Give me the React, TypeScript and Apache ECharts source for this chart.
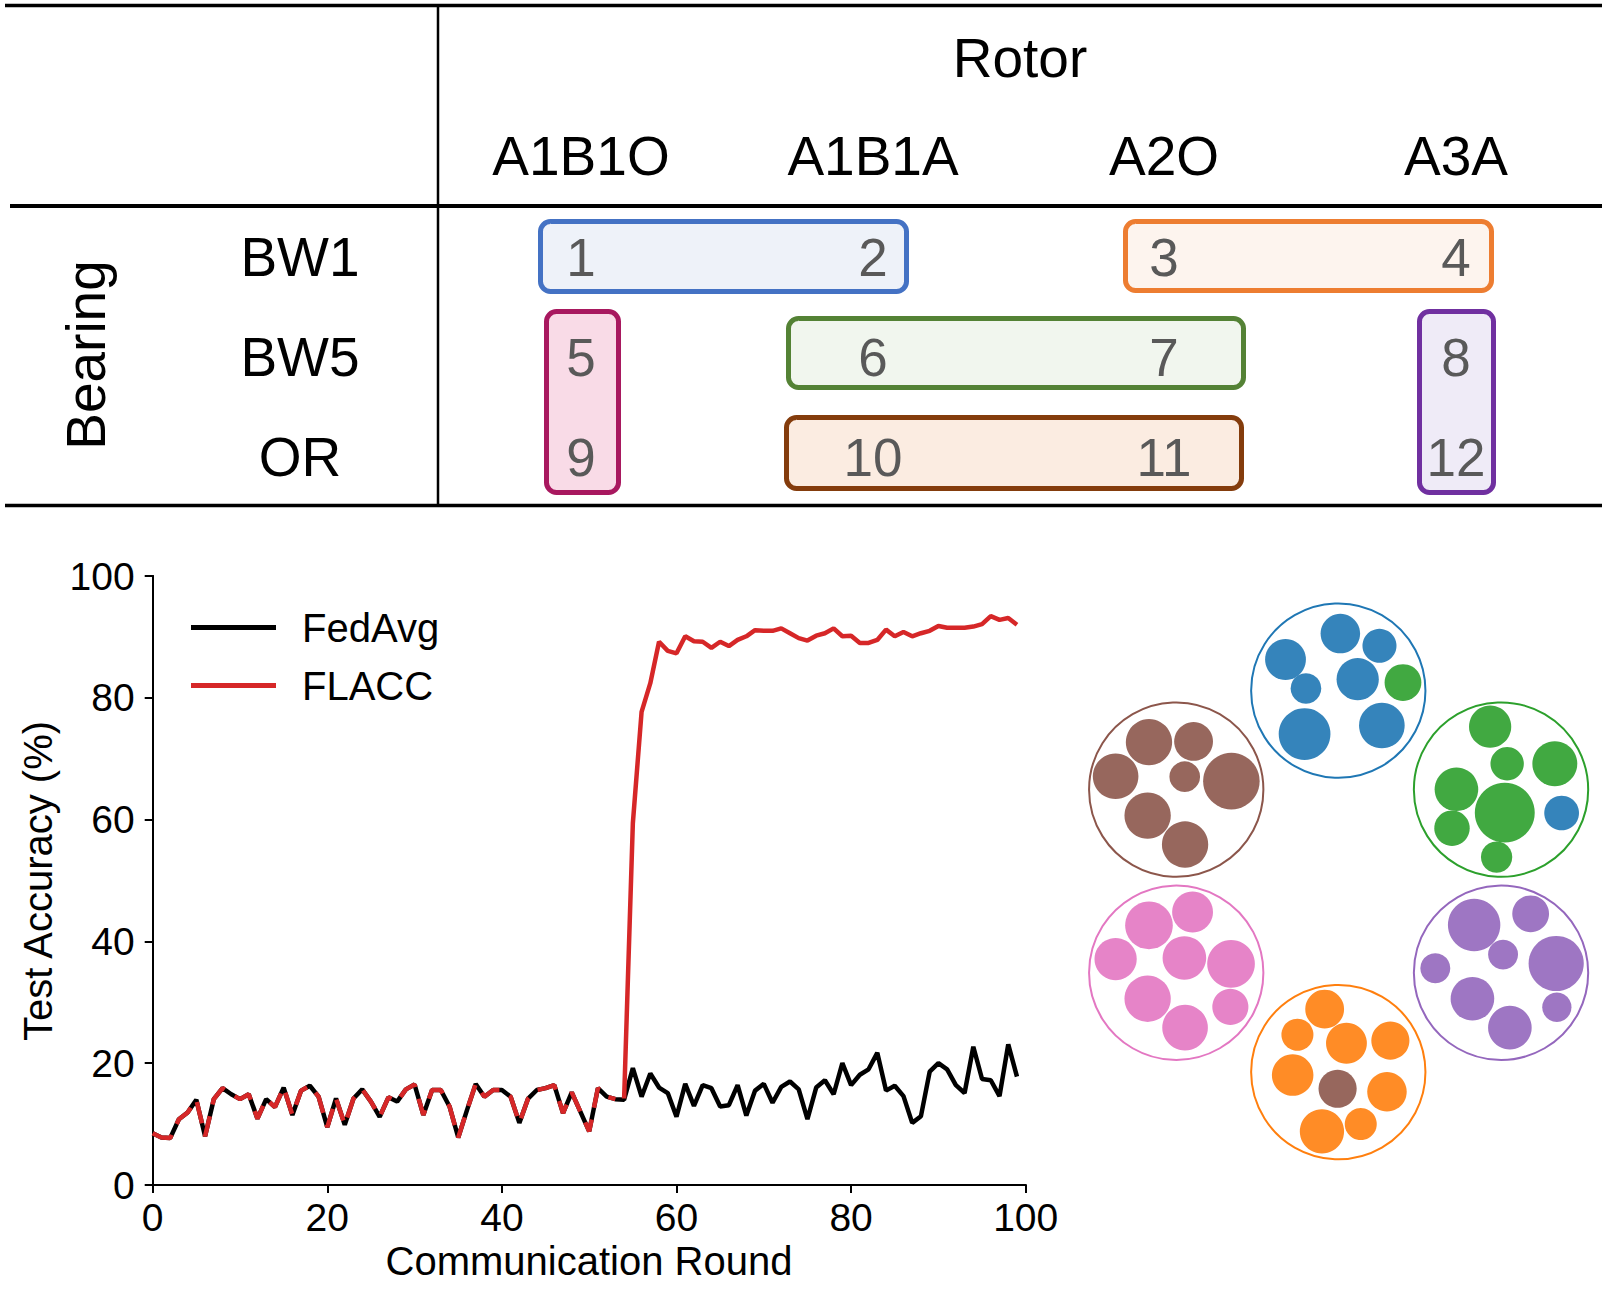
import React, { useEffect, useRef } from "react";
import * as echarts from "echarts";

const FONT = "'Liberation Sans', Arial, Helvetica, sans-serif";

// ---- table data ----
const rotorTitle = "Rotor";
const bearingTitle = "Bearing";
const rotorCols = ["A1B1O", "A1B1A", "A2O", "A3A"];
const bearingRows = ["BW1", "BW5", "OR"];
const clientIds = [
  [1, 2, 3, 4],
  [5, 6, 7, 8],
  [9, 10, 11, 12],
];

// ---- line chart data ----
const yTicks = [0, 20, 40, 60, 80, 100];
const xTicks = [0, 20, 40, 60, 80, 100];
const fedAvg = [
  8.5, 7.8, 7.7, 10.8, 11.9, 14.0, 8.0, 14.1, 15.9, 14.9,
  14.1, 14.9, 10.9, 14.1, 12.8, 16.0, 11.5, 15.5, 16.3, 14.5,
  9.5, 14.2, 9.9, 14.2, 15.7, 13.7, 11.2, 14.4, 13.7, 15.7,
  16.5, 11.5, 15.6, 15.6, 12.9, 7.8, 12.3, 16.6, 14.5, 15.6,
  15.6, 14.5, 10.2, 14.2, 15.6, 15.9, 16.4, 11.8, 15.2, 12.0,
  8.8, 15.9, 14.5, 14.1, 14.0, 19.2, 14.5, 18.3, 16.0, 15.1,
  11.2, 16.6, 13.0, 16.4, 15.9, 12.9, 13.1, 16.4, 11.4, 15.5,
  16.6, 13.5, 16.1, 17.0, 15.7, 10.8, 16.0, 17.2, 14.9, 20.0,
  16.4, 18.1, 19.0, 21.7, 15.5, 16.3, 14.6, 10.2, 11.3, 18.6,
  20.0, 19.0, 16.4, 15.1, 22.7, 17.4, 17.2, 14.6, 23.1, 17.8,
];
const switchRound = 54;
const flaccAfterSwitch = [
  14.2, 59.4, 77.7, 82.4, 89.2, 87.7, 87.3, 90.1, 89.3, 89.2,
  88.2, 89.2, 88.5, 89.5, 90.1, 91.1, 91.0, 91.0, 91.4, 90.6,
  89.8, 89.4, 90.2, 90.6, 91.4, 90.1, 90.2, 89.0, 89.0, 89.5,
  91.2, 90.1, 90.8, 90.1, 90.6, 91.0, 91.8, 91.5, 91.5, 91.5,
  91.7, 92.1, 93.4, 92.8, 93.1, 92.0,
];
// FLACC coincides with FedAvg before the switch round
const flacc = [...fedAvg.slice(0, switchRound), ...flaccAfterSwitch];

// ---- cluster illustration (decorative) ----
const clusterColors = ["#1f77b4", "#2ca02c", "#9467bd", "#ff7f0e", "#e377c2", "#8c564b"];
const rings = [
  [781, 271, 0], [1259, 538, 1], [1259, 1032, 2],
  [781, 1300, 3], [305, 1032, 4], [305, 538, 5],
];
const ringRadius = 256;
const blobs = [
  [787, 117, 58, 0], [902, 150, 50, 0], [626, 187, 60, 0], [838, 240, 62, 0], [971, 249, 54, 1], [686, 265, 45, 0], [682, 388, 76, 0], [909, 365, 67, 0],
  [1227, 368, 62, 1], [1277, 468, 49, 1], [1417, 468, 66, 1], [1128, 537, 64, 1], [1270, 600, 88, 1], [1437, 601, 51, 0], [1115, 642, 52, 1], [1246, 720, 46, 1],
  [225, 410, 68, 5], [356, 408, 57, 5], [127, 502, 67, 5], [330, 503, 45, 5], [467, 515, 83, 5], [221, 608, 68, 5], [331, 686, 68, 5],
  [225, 904, 70, 4], [353, 868, 60, 4], [127, 995, 62, 4], [329, 992, 64, 4], [466, 1008, 70, 4], [221, 1102, 68, 4], [331, 1180, 67, 4], [464, 1124, 53, 4],
  [1180, 903, 77, 2], [1346, 873, 54, 2], [1265, 983, 44, 2], [1421, 1007, 81, 2], [1066, 1020, 44, 2], [1175, 1102, 64, 2], [1285, 1180, 64, 2], [1423, 1125, 43, 2],
  [741, 1130, 57, 3], [661, 1199, 47, 3], [805, 1222, 60, 3], [934, 1215, 56, 3], [647, 1308, 61, 3], [779, 1345, 56, 5], [924, 1353, 58, 3], [733, 1460, 65, 3], [847, 1440, 47, 3],
];

const groupBoxes = [
  { x: 538, y: 219, w: 371, h: 75, stroke: "#4472c4", fill: "#eef2f9" },
  { x: 1123, y: 219, w: 371, h: 74, stroke: "#ed7d31", fill: "#fdf4ee" },
  { x: 544, y: 309, w: 77, h: 186, stroke: "#a8185f", fill: "#f9dbe7" },
  { x: 786, y: 316, w: 460, h: 74, stroke: "#548235", fill: "#f1f6ee" },
  { x: 1417, y: 309, w: 79, h: 186, stroke: "#7030a0", fill: "#efebf7" },
  { x: 784, y: 415, w: 460, h: 76, stroke: "#843c0c", fill: "#fbece1" },
];

const colX = [581, 873, 1164, 1456];
const rowY = [257, 357, 457];

function px(zx: number) {
  return (1220 + (zx - 525) * 0.332) * 1.02551;
}
function py(zy: number) {
  return (590 + (zy - 40) * 0.36147) * 1.02551;
}
const rScale = 0.332 * 1.02551;

function buildGraphic() {
  const g: any[] = [];
  const line = (x1: number, y1: number, x2: number, y2: number, w: number) => ({
    type: "line",
    shape: { x1, y1, x2, y2 },
    style: { stroke: "#000", lineWidth: w },
    silent: true,
  });
  g.push(line(5, 5.5, 1602, 5.5, 3.5));
  g.push(line(10, 206, 1602, 206, 4));
  g.push(line(5, 505.5, 1602, 505.5, 3.5));
  g.push(line(438, 5, 438, 505, 2.5));

  groupBoxes.forEach((b) => {
    g.push({
      type: "rect",
      shape: { x: b.x + 2.5, y: b.y + 2.5, width: b.w - 5, height: b.h - 5, r: 10 },
      style: { fill: b.fill, stroke: b.stroke, lineWidth: 5 },
      silent: true,
    });
  });

  const text = (t: string, x: number, y: number, size: number, fill: string, extra: any = {}) => ({
    type: "text",
    x,
    y,
    ...extra,
    style: {
      text: t,
      fontSize: size,
      fontFamily: FONT,
      fill,
      align: "center",
      verticalAlign: "middle",
    },
    silent: true,
  });

  g.push(text(rotorTitle, 1020, 58, 55, "#000"));
  rotorCols.forEach((c, i) => g.push(text(c, colX[i], 156, 55, "#000")));
  bearingRows.forEach((r, i) => g.push(text(r, 300, rowY[i], 55, "#000")));
  g.push(text(bearingTitle, 86, 355, 55, "#000", { rotation: Math.PI / 2 }));
  clientIds.forEach((row, ri) =>
    row.forEach((id, ci) => g.push(text(String(id), colX[ci], rowY[ri], 53, "#595959")))
  );

  g.push(text("Communication Round", 589, 1261, 40, "#000"));
  g.push(text("Test Accuracy (%)", 38, 881, 40, "#000", { rotation: Math.PI / 2 }));

  rings.forEach(([zx, zy, ci]) => {
    g.push({
      type: "circle",
      shape: { cx: px(zx), cy: py(zy), r: ringRadius * rScale },
      style: { fill: "none", stroke: clusterColors[ci], lineWidth: 2 },
      silent: true,
    });
  });
  blobs.forEach(([zx, zy, rx, ci]) => {
    g.push({
      type: "circle",
      shape: { cx: px(zx), cy: py(zy), r: rx * rScale },
      style: { fill: clusterColors[ci], opacity: 0.9 },
      silent: true,
    });
  });
  return g;
}

export default function App() {
  const ref = useRef<HTMLDivElement>(null);
  useEffect(() => {
    if (!ref.current) return;
    const chart = echarts.init(ref.current, null, { renderer: "svg" });
    const rounds = fedAvg.map((_, i) => i);
    const fedData = rounds.map((r) => [r, fedAvg[r]]);
    const flaccEarly = rounds.filter((r) => r < switchRound).map((r) => [r, flacc[r]]);
    const flaccLate = rounds.filter((r) => r >= switchRound).map((r) => [r, flacc[r]]);

    const axisCommon = {
      axisLine: { show: true, lineStyle: { color: "#000", width: 2 } },
      splitLine: { show: false },
    };

    chart.setOption({
      animation: false,
      backgroundColor: "#fff",
      textStyle: { fontFamily: FONT },
      grid: {
        left: 152.7,
        top: 576,
        right: 1608 - 1025.7,
        bottom: 1301 - 1185,
        containLabel: false,
        outerBoundsMode: "none",
      },
      legend: {
        data: ["FedAvg", "FLACC"],
        orient: "vertical",
        left: 186,
        top: 602,
        icon: "rect",
        itemWidth: 85,
        itemHeight: 5,
        itemGap: 17,
        textStyle: {
          fontSize: 40,
          color: "#000",
          fontFamily: FONT,
          lineHeight: 41,
          padding: [0, 0, 0, 21],
        },
      },
      xAxis: [
        {
          type: "value",
          min: xTicks[0],
          max: xTicks[xTicks.length - 1],
          interval: 20,
          ...axisCommon,
          axisTick: { show: true, length: 8, lineStyle: { color: "#000", width: 2 } },
          axisLabel: { fontSize: 39, color: "#000", margin: 13, fontFamily: FONT },
        },
        {
          type: "value",
          position: "top",
          min: 0,
          max: 100,
          ...axisCommon,
          axisTick: { show: false },
          axisLabel: { show: false },
        },
      ],
      yAxis: [
        {
          type: "value",
          min: yTicks[0],
          max: yTicks[yTicks.length - 1],
          interval: 20,
          ...axisCommon,
          axisTick: { show: true, length: 8, lineStyle: { color: "#000", width: 2 } },
          axisLabel: { fontSize: 39, color: "#000", margin: 18, fontFamily: FONT },
        },
        {
          type: "value",
          position: "right",
          min: 0,
          max: 100,
          ...axisCommon,
          axisTick: { show: false },
          axisLabel: { show: false },
        },
      ],
      series: [
        {
          name: "FedAvg",
          type: "line",
          data: fedData,
          symbol: "none",
          lineStyle: { color: "#000", width: 4.5 },
          itemStyle: { color: "#000" },
          z: 2,
        },
        {
          name: "FLACC",
          type: "line",
          data: flaccLate,
          symbol: "none",
          lineStyle: { color: "#d62728", width: 4.5 },
          itemStyle: { color: "#d62728" },
          z: 3,
        },
        {
          name: "FLACC (early)",
          type: "line",
          data: flaccEarly,
          symbol: "none",
          lineStyle: { color: "#d62728", width: 4.5, type: [22, 12] },
          itemStyle: { color: "#d62728" },
          z: 3,
        },
      ],
      graphic: buildGraphic(),
    });
    return () => chart.dispose();
  }, []);
  return (
    <div
      ref={ref}
      style={{ position: "absolute", left: 0, top: 0, width: 1608, height: 1301, background: "#fff" }}
    />
  );
}
